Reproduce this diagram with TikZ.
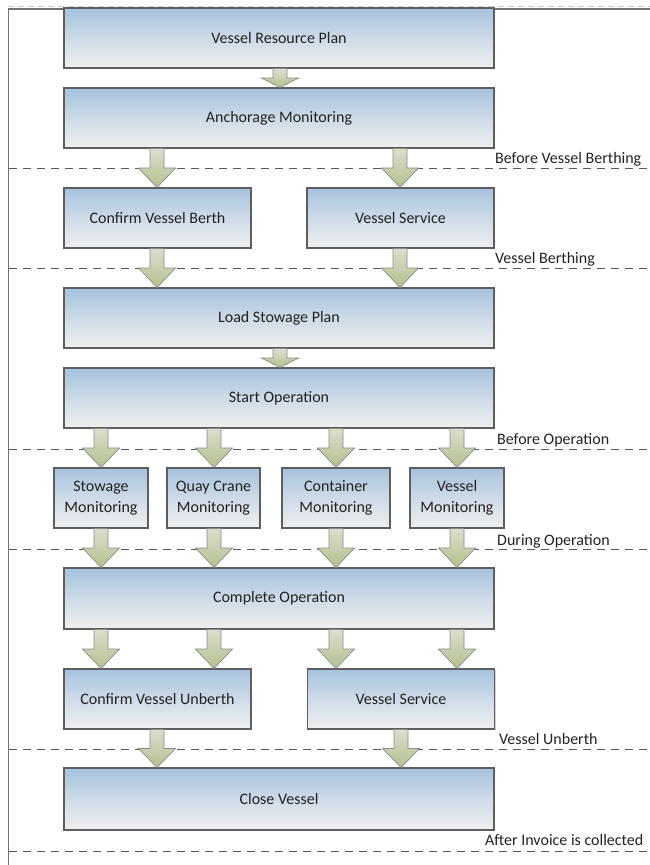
\documentclass[tikz,border=0pt]{standalone}
\usepackage{fontspec}
\setmainfont{Carlito}
\usetikzlibrary{calc,shadows}
\definecolor{boxblue}{HTML}{A6C2DE}
\definecolor{boxgray}{HTML}{EFEFEF}
\definecolor{boxline}{HTML}{5E5E5E}
\definecolor{arrtop}{HTML}{DADECE}
\definecolor{arrbot}{HTML}{B4C18C}
\definecolor{arrline}{HTML}{8A8A8A}
\definecolor{txt}{HTML}{222222}
\tikzset{
  stagebox/.style={draw=boxline, line width=1.1pt, top color=boxblue, bottom color=boxgray,
    middle color=boxblue!45!boxgray,
    drop shadow={shadow xshift=1.2pt, shadow yshift=-1.2pt, opacity=0.35},
    inner sep=2pt, align=center, text=txt, font=\fontsize{16}{21}\selectfont},
  blockarrow/.style={draw=arrline, line width=0.7pt, top color=arrtop, bottom color=arrbot, line join=miter},
  sepline/.style={draw=black!65, line width=0.9pt, dash pattern=on 8pt off 6pt},
  framel/.style={draw=black!55, line width=1.6pt},
  lbl/.style={anchor=base west, inner sep=0pt, text=txt, font=\fontsize{16}{21}\selectfont},
}
\newcommand\blockarr[3]{%
  \coordinate (pa) at (#1,0 |- #2.south);
  \coordinate (pb) at (#1,0 |- #3.north);
  \coordinate (pm) at ($(pa)!0.5!(pb)$);
  \path[blockarrow] ([xshift=-7pt]pa) -- ([xshift=-7pt]pm) -- ([xshift=-18.5pt]pm) -- (pb)
     -- ([xshift=18.5pt]pm) -- ([xshift=7pt]pm) -- ([xshift=7pt]pa) -- cycle;
}
\begin{document}
\begin{tikzpicture}[x=1pt,y=-1pt]
\useasboundingbox (0,0) rectangle (650,865);
% frame
\draw[draw=black!20, line width=0.8pt, dash pattern=on 6pt off 4pt] (8,6) -- (650,6);
\draw[framel] (650,9) -- (8.5,9) -- (8.5,865);
% separators
\foreach \yy in {168,268,449,549,749,851} {\draw[sepline] (9,\yy) -- (650,\yy);}
% boxes
\node[stagebox, minimum width=430pt, minimum height=60pt] (vrp) at (279,38) {Vessel Resource Plan};
\node[stagebox, minimum width=430pt, minimum height=60pt] (am)  at (279,118) {Anchorage Monitoring};
\node[stagebox, minimum width=187pt, minimum height=60pt] (cvb) at (157.5,218) {Confirm Vessel Berth};
\node[stagebox, minimum width=187pt, minimum height=60pt] (vs1) at (400.5,218) {Vessel Service};
\node[stagebox, minimum width=430pt, minimum height=60pt] (lsp) at (279,318) {Load Stowage Plan};
\node[stagebox, minimum width=430pt, minimum height=60pt] (so)  at (279,398) {Start Operation};
\node[stagebox, minimum width=94pt, minimum height=60pt] (sm)  at (101,498) {Stowage\\Monitoring};
\node[stagebox, minimum width=93pt, minimum height=60pt] (qcm) at (213.5,498) {Quay Crane\\Monitoring};
\node[stagebox, minimum width=108pt, minimum height=60pt] (cm)  at (336,498) {Container\\Monitoring};
\node[stagebox, minimum width=94pt, minimum height=60pt] (vm)  at (457,498) {Vessel\\Monitoring};
\node[stagebox, minimum width=430pt, minimum height=61pt] (co)  at (279,598.5) {Complete Operation};
\node[stagebox, minimum width=187pt, minimum height=60pt] (cvu) at (157.5,699) {Confirm Vessel Unberth};
\node[stagebox, minimum width=187pt, minimum height=60pt] (vs2) at (401,699) {Vessel Service};
\node[stagebox, minimum width=430pt, minimum height=62pt] (cv)  at (279,799) {Close Vessel};
% arrows
\blockarr{280}{vrp}{am}
\blockarr{157}{am}{cvb}
\blockarr{400}{am}{vs1}
\blockarr{157}{cvb}{lsp}
\blockarr{400}{vs1}{lsp}
\blockarr{280}{lsp}{so}
\blockarr{101}{so}{sm}
\blockarr{214}{so}{qcm}
\blockarr{336}{so}{cm}
\blockarr{457}{so}{vm}
\blockarr{101}{sm}{co}
\blockarr{214}{qcm}{co}
\blockarr{336}{cm}{co}
\blockarr{457}{vm}{co}
\blockarr{101}{co}{cvu}
\blockarr{214}{co}{cvu}
\blockarr{336}{co}{vs2}
\blockarr{457}{co}{vs2}
\blockarr{157}{cvu}{cv}
\blockarr{401}{vs2}{cv}
% labels
\node[lbl] (l1) at (495,163) {Before Vessel Berthing};
\node[lbl] (l2) at (495,263.5) {Vessel Berthing};
\node[lbl] (l3) at (497,444) {Before Operation};
\node[lbl] (l4) at (497,545) {During Operation};
\node[lbl] (l5) at (499,744) {Vessel Unberth};
\node[lbl] (l6) at (485,845.5) {After Invoice is collected};
\end{tikzpicture}
\end{document}
